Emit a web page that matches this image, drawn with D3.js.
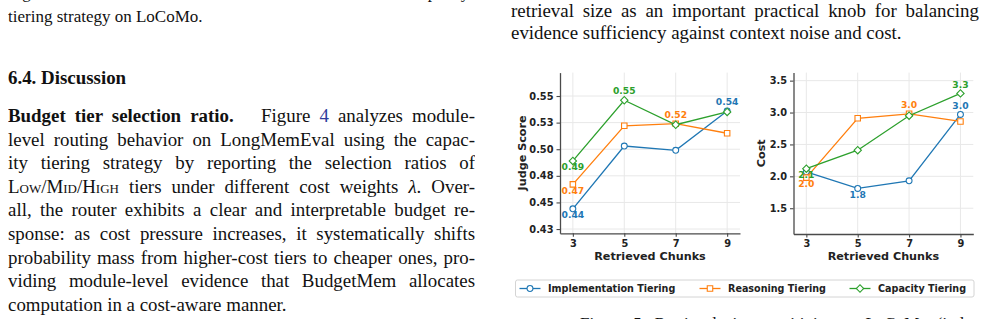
<!DOCTYPE html>
<html>
<head>
<meta charset="utf-8">
<script src="https://cdn.jsdelivr.net/npm/d3@7"></script>
<style>
    body {
        margin: 0;
        width: 985px;
        height: 319px;
        overflow: hidden;
        background: #fff;
        position: relative;
        font-family: "Liberation Serif", "Times New Roman", serif;
        color: #111;
    }
    .col {
        position: absolute;
        font-size: 18.9px;
        line-height: 23.6px;
    }
    .ln {
        height: 23.6px;
        overflow: hidden;
        text-align: justify;
        text-align-last: justify;
    }
    .last {
        text-align-last: left;
    }
    .cap {
        font-size: 17px;
        line-height: 20px;
    }
    .sc {
        font-variant: small-caps;
    }
    .ref {
        color: #2f3d9c;
    }
    svg {
        position: absolute;
        left: 0;
        top: 0;
    }
</style>
</head>
<body>
<div class="col" style="left:8px; top:-17px; width:467px;">
    <div class="ln cap">Figure 3. Tier selection ratios of modules under the capacity-</div>
    <div class="ln cap last">tiering strategy on LoCoMo.</div>
</div>
<div class="col" style="left:8px; top:66px; width:467px;">
    <div class="ln last"><b>6.4. Discussion</b></div>
</div>
<div class="col" style="left:8px; top:104px; width:467px;">
    <div class="ln"><b>Budget tier selection ratio.</b>&nbsp;&nbsp; Figure <span class="ref">4</span> analyzes module-</div>
    <div class="ln">level routing behavior on LongMemEval using the capac-</div>
    <div class="ln">ity tiering strategy by reporting the selection ratios of</div>
    <div class="ln"><span class="sc">Low</span>/<span class="sc">Mid</span>/<span class="sc">High</span> tiers under different cost weights <i>λ</i>. Over-</div>
    <div class="ln">all, the router exhibits a clear and interpretable budget re-</div>
    <div class="ln">sponse: as cost pressure increases, it systematically shifts</div>
    <div class="ln">probability mass from higher-cost tiers to cheaper ones, pro-</div>
    <div class="ln">viding module-level evidence that BudgetMem allocates</div>
    <div class="ln last">computation in a cost-aware manner.</div>
</div>
<div class="col" style="left:511px; top:0px; width:468px; line-height:22px;">
    <div class="ln" style="height:22px;">retrieval size as an important practical knob for balancing</div>
    <div class="ln last" style="height:22px;">evidence sufficiency against context noise and cost.</div>
</div>
<div class="col" style="left:580px; top:314px; width:400px;">
    <div class="ln cap last">Figure 5. Retrieval size sensitivity on LoCoMo (judge score and cost).</div>
</div>
<svg id="chart" width="985" height="319"></svg>
<script>
const chunks = [3, 5, 7, 9];
const seriesNames = ["Implementation Tiering", "Reasoning Tiering", "Capacity Tiering"];
const seriesColors = ["#1f77b4", "#ff7f0e", "#2ca02c"];
const seriesMarkers = ["circle", "square", "diamond"];

// judge score per retrieved chunks
const judgeImplementation = [0.444, 0.503, 0.499, 0.536];
const judgeReasoning = [0.467, 0.522, 0.524, 0.515];
const judgeCapacity = [0.489, 0.546, 0.523, 0.535];

// cost per retrieved chunks
const costImplementation = [2.07, 1.81, 1.93, 2.97];
const costReasoning = [1.98, 2.91, 2.98, 2.86];
const costCapacity = [2.12, 2.41, 2.95, 3.30];

const judgeTicks = [0.425, 0.45, 0.475, 0.5, 0.525, 0.55];
const judgeTickLabels = ["0.43", "0.45", "0.48", "0.50", "0.53", "0.55"];
const costTicks = [1.5, 2.0, 2.5, 3.0, 3.5];
const costTickLabels = ["1.5", "2.0", "2.5", "3.0", "3.5"];

const svg = d3.select("#chart");
const font = "'DejaVu Sans', sans-serif";

const drawMarker = (g, kind, cx, cy, color) => {
    let sym;
    if (kind === "circle") {
        sym = d3.symbol(d3.symbolCircle, 27);
    } else if (kind === "square") {
        sym = d3.symbol(d3.symbolSquare, 30);
    } else {
        sym = d3.symbol(d3.symbolSquare, 27);
    }
    g.append("path")
        .attr("d", sym())
        .attr("transform", `translate(${cx},${cy})` + (kind === "diamond" ? " rotate(45)" : ""))
        .attr("fill", "#fff")
        .attr("stroke", color)
        .attr("stroke-width", 1.1);
};

const drawPanel = (cfg) => {
    const x = d3.scaleLinear().domain([2.5, 9.5]).range([cfg.left, cfg.right]);
    const y = d3.scaleLinear().domain(cfg.yDomain).range([cfg.bottom, cfg.top]);
    const g = svg.append("g");

    // grid
    g.append("g")
        .selectAll("line")
        .data(chunks)
        .enter()
        .append("line")
        .attr("x1", (d) => x(d))
        .attr("x2", (d) => x(d))
        .attr("y1", cfg.top)
        .attr("y2", cfg.bottom)
        .attr("stroke", "#e8e8e8")
        .attr("stroke-width", 1);
    g.append("g")
        .selectAll("line")
        .data(cfg.ticks)
        .enter()
        .append("line")
        .attr("x1", cfg.left)
        .attr("x2", cfg.right)
        .attr("y1", (d) => y(d))
        .attr("y2", (d) => y(d))
        .attr("stroke", "#e8e8e8")
        .attr("stroke-width", 1);

    // axes
    const styleAxis = (a) => {
        a.select(".domain").attr("stroke", "#4a4a4a").attr("stroke-width", 1.3);
        a.selectAll(".tick line").attr("stroke", "#4a4a4a").attr("stroke-width", 1.1);
        a.selectAll(".tick text")
            .attr("fill", "#222")
            .style("font-family", font)
            .style("font-weight", "bold")
            .style("font-size", "9.8px");
    };
    g.append("g")
        .attr("transform", `translate(0,${cfg.bottom})`)
        .call(d3.axisBottom(x).tickValues(chunks).tickFormat(d3.format("d")).tickSize(3.5).tickSizeOuter(0).tickPadding(3))
        .call(styleAxis);
    g.append("g")
        .attr("transform", `translate(${cfg.left},0)`)
        .call(
            d3.axisLeft(y)
                .tickValues(cfg.ticks)
                .tickFormat((d, i) => cfg.tickLabels[i])
                .tickSize(3.5)
                .tickSizeOuter(0)
                .tickPadding(3)
        )
        .call(styleAxis);

    // axis titles
    g.append("text")
        .attr("x", (cfg.left + cfg.right) / 2)
        .attr("y", 259.5)
        .attr("text-anchor", "middle")
        .style("font-family", font)
        .style("font-weight", "bold")
        .style("font-size", "11.2px")
        .attr("fill", "#222")
        .text("Retrieved Chunks");
    g.append("text")
        .attr("transform", `translate(${cfg.titleX},${(cfg.top + cfg.bottom) / 2}) rotate(-90)`)
        .attr("text-anchor", "middle")
        .attr("dy", "0.35em")
        .style("font-family", font)
        .style("font-weight", "bold")
        .style("font-size", "11.2px")
        .attr("fill", "#222")
        .text(cfg.title);

    // lines and markers
    const line = d3.line().x((d, i) => x(chunks[i])).y((d) => y(d));
    cfg.series.forEach((vals, s) => {
        g.append("path")
            .attr("d", line(vals))
            .attr("fill", "none")
            .attr("stroke", seriesColors[s])
            .attr("stroke-width", 1.3);
        vals.forEach((v, i) => drawMarker(g, seriesMarkers[s], x(chunks[i]), y(v), seriesColors[s]));
    });

    // min / max labels
    cfg.series.forEach((vals, s) => {
        const iMin = d3.minIndex(vals);
        const iMax = d3.maxIndex(vals);
        [[iMin, 6], [iMax, -9]].forEach(([i, off]) => {
            g.append("text")
                .attr("x", x(chunks[i]))
                .attr("y", y(vals[i]) + off)
                .attr("dy", "0.35em")
                .attr("text-anchor", "middle")
                .style("font-family", font)
                .style("font-weight", "bold")
                .style("font-size", "9.2px")
                .attr("fill", seriesColors[s])
                .text(vals[i].toFixed(cfg.digits));
        });
    });
};

drawPanel({
    left: 560, right: 740, top: 72.6, bottom: 233.3,
    yDomain: [0.421, 0.572],
    ticks: judgeTicks, tickLabels: judgeTickLabels,
    series: [judgeImplementation, judgeReasoning, judgeCapacity],
    digits: 2, title: "Judge Score", titleX: 522
});
drawPanel({
    left: 793.5, right: 973.3, top: 72.6, bottom: 234,
    yDomain: [1.096, 3.626],
    ticks: costTicks, tickLabels: costTickLabels,
    series: [costImplementation, costReasoning, costCapacity],
    digits: 1, title: "Cost", titleX: 761.5
});

// legend
const legend = svg.append("g");
legend.append("rect")
    .attr("x", 515.5)
    .attr("y", 280)
    .attr("width", 458.5)
    .attr("height", 17)
    .attr("rx", 2)
    .attr("fill", "#fff")
    .attr("stroke", "#d4d4d4")
    .attr("stroke-width", 1);
const legendX = [519.5, 699.5, 849.5];
seriesNames.forEach((name, s) => {
    const lx = legendX[s];
    legend.append("line")
        .attr("x1", lx)
        .attr("x2", lx + 21)
        .attr("y1", 288.5)
        .attr("y2", 288.5)
        .attr("stroke", seriesColors[s])
        .attr("stroke-width", 1.3);
    drawMarker(legend, seriesMarkers[s], lx + 10.5, 288.5, seriesColors[s]);
    legend.append("text")
        .attr("x", lx + 28.5)
        .attr("y", 288.5)
        .attr("dy", "0.35em")
        .style("font-family", font)
        .style("font-weight", "bold")
        .style("font-size", "9.6px")
        .attr("fill", "#222")
        .text(name);
});
</script>
</body>
</html>
